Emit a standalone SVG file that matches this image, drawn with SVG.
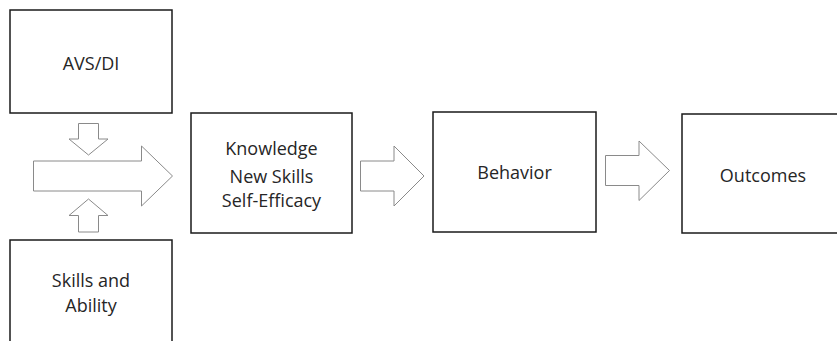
<svg xmlns="http://www.w3.org/2000/svg" width="837" height="341" viewBox="0 0 837 341">
  <style>
    .box { fill: #ffffff; stroke: #1a1a1a; stroke-width: 1.5; }
    .label { font-family: "Open Sans", "Liberation Sans", sans-serif; font-size: 18px; fill: #262626; text-anchor: middle; }
    .flow { fill: #ffffff; stroke: #8a8a8a; stroke-width: 1; stroke-linejoin: miter; }
  </style>
  <rect width="837" height="341" fill="#ffffff"/>

  <g id="avs-di">
    <rect class="box" x="10" y="10" width="162" height="103"/>
    <text class="label" x="91" y="70">AVS/DI</text>
  </g>

  <g id="skills-ability">
    <rect class="box" x="10" y="240" width="162" height="110"/>
    <text class="label" x="91" y="287">Skills and</text>
    <text class="label" x="91" y="312">Ability</text>
  </g>

  <g id="knowledge">
    <rect class="box" x="191" y="113" width="161" height="120"/>
    <text class="label" x="271.5" y="155">Knowledge</text>
    <text class="label" x="271.5" y="183">New Skills</text>
    <text class="label" x="271.5" y="207">Self-Efficacy</text>
  </g>

  <g id="behavior">
    <rect class="box" x="433" y="112" width="163" height="120"/>
    <text class="label" x="514.5" y="179">Behavior</text>
  </g>

  <g id="outcomes">
    <rect class="box" x="682" y="114" width="162" height="119"/>
    <text class="label" x="763" y="182">Outcomes</text>
  </g>

  <g id="connectors">
    <!-- block arrow from AVS/DI down -->
    <path class="flow" d="M78.5,123.5 H98.5 V139 H108 L88.5,155 L69,139 H78.5 Z"/>
    <!-- block arrow from Skills and Ability up -->
    <path class="flow" d="M78.5,232 H98.5 V215.5 H108 L88.5,199 L69,215.5 H78.5 Z"/>
    <!-- combined input arrow into Knowledge -->
    <path class="flow" d="M33.5,161 H141.5 V146 L172.5,176 L141.5,206 V191 H33.5 Z"/>
    <!-- Knowledge to Behavior -->
    <path class="flow" d="M360.5,161 H394 V146 L424,176 L394,206 V191 H360.5 Z"/>
    <!-- Behavior to Outcomes -->
    <path class="flow" d="M605.5,155.5 H639 V141 L669.5,170.5 L639,200.5 V185.5 H605.5 Z"/>
  </g>
</svg>
